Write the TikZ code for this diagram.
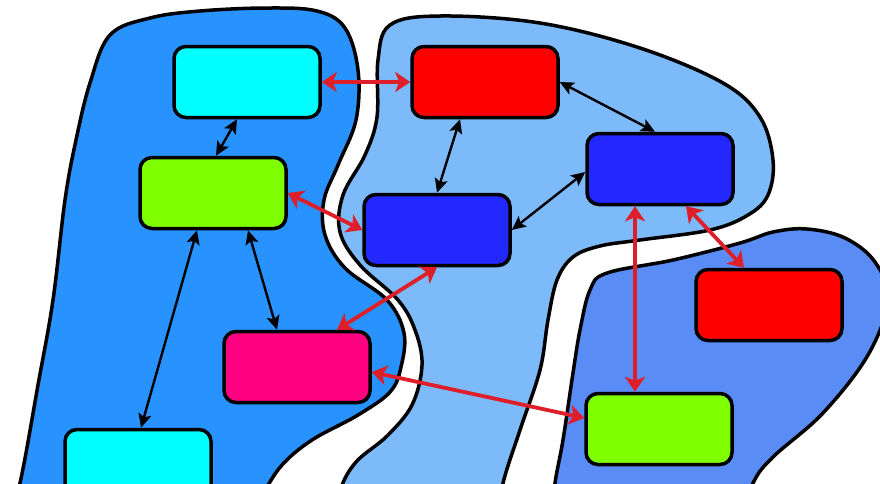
\documentclass[tikz,border=0pt]{standalone}
\usetikzlibrary{arrows.meta}
\definecolor{zoneleft}{RGB}{40,146,255}
\definecolor{zonemid}{RGB}{125,186,250}
\definecolor{zoneright}{RGB}{90,140,245}
\definecolor{unitcyan}{RGB}{0,255,255}
\definecolor{unitgreen}{RGB}{128,255,0}
\definecolor{unitred}{RGB}{255,0,0}
\definecolor{unitblue}{RGB}{35,40,255}
\definecolor{unitpink}{RGB}{255,0,128}
\definecolor{linkred}{RGB}{222,30,40}
\tikzset{
    blockbox/.style={draw=black, line width=3.5pt, rounded corners=12pt, minimum width=146pt, minimum height=71pt},
    blklink/.style={{Stealth[length=14pt,width=13pt,inset=3pt]}-{Stealth[length=14pt,width=13pt,inset=3pt]}, line width=2.4pt},
    redlink/.style={{Stealth[length=15pt,width=20pt,inset=4pt]}-{Stealth[length=15pt,width=20pt,inset=4pt]}, line width=3.8pt, draw=linkred, fill=linkred},
    zone/.style={draw=black, line width=3.5pt}
}
\begin{document}
\begin{tikzpicture}[x=1pt, y=-1pt]
            \useasboundingbox (0,0) rectangle (880,483);
            \clip (0,0) rectangle (880,483);
            % zones
            \draw[zone, fill=zoneleft] plot[smooth cycle, tension=0.6] coordinates {(90,83) (110,35) (150,18) (200,11) (267,8) (317,11) (345,28) (358,70) (356,120) (338,165) (324,200) (325,235) (345,268) (387,300) (404,333) (401,367) (390,392) (358,415) (312,440) (282,465) (262,495) (240,530) (5,530) (20,483) (38,385) (53,300) (65,200) (76,140)};
            \draw[zone, fill=zonemid] plot[smooth cycle, tension=0.6] coordinates {(378,60) (390,25) (440,16) (540,23) (640,48) (723,83) (760,117) (773,160) (768,195) (748,215) (710,230) (640,240) (600,246) (573,257) (557,280) (548,320) (540,370) (520,430) (503,483) (495,530) (330,530) (340,490) (356,462) (387,436) (412,405) (422,365) (415,330) (398,300) (360,265) (340,232) (343,195) (365,155) (377,117)};
            \draw[zone, fill=zoneright] plot[smooth cycle, tension=0.6] coordinates {(580,330) (590,290) (607,273) (673,260) (740,243) (773,232) (807,229) (845,238) (875,262) (888,300) (868,355) (823,413) (773,457) (753,483) (735,530) (550,530) (555,483) (563,440) (573,373)};
            % units
            \node[blockbox, fill=unitcyan] (cyantop) at (247,82) {};
            \node[blockbox, fill=unitgreen] (greenleft) at (213,193) {};
            \node[blockbox, fill=unitpink] (pink) at (297,367) {};
            \node[blockbox, fill=unitcyan] (cyanbot) at (138,465) {};
            \node[blockbox, fill=unitred] (redtop) at (485,82) {};
            \node[blockbox, fill=unitblue] (bluemid) at (437,230) {};
            \node[blockbox, fill=unitblue] (blueright) at (660,169) {};
            \node[blockbox, fill=unitred] (redright) at (769,305) {};
            \node[blockbox, fill=unitgreen] (greenright) at (659,429) {};
            % links inside zones
            \draw[blklink] ([xshift=-10pt]cyantop.south) -- ([xshift=3pt]greenleft.north);
            \draw[blklink] ([xshift=-16pt]greenleft.south) -- ([xshift=3pt]cyanbot.north);
            \draw[blklink] ([xshift=35pt]greenleft.south) -- ([xshift=-20pt]pink.north);
            \draw[blklink] ([xshift=-25pt]redtop.south) -- (bluemid.north);
            \draw[blklink] (redtop.east) -- ([xshift=-5pt]blueright.north);
            \draw[blklink] (bluemid.east) -- ([yshift=-3pt]blueright.west);
            % links across zones
            \draw[redlink] (cyantop.east) -- (redtop.west);
            \draw[redlink] (greenleft.east) -- (bluemid.west);
            \draw[redlink] (bluemid.south) -- ([xshift=40pt]pink.north);
            \draw[redlink] ([yshift=-5pt]pink.east) -- ([yshift=11pt]greenright.west);
            \draw[redlink] ([xshift=-25pt]blueright.south) -- ([xshift=-24pt]greenright.north);
            \draw[redlink] ([xshift=26pt]blueright.south) -- ([xshift=-25pt]redright.north);
\end{tikzpicture}
\end{document}
